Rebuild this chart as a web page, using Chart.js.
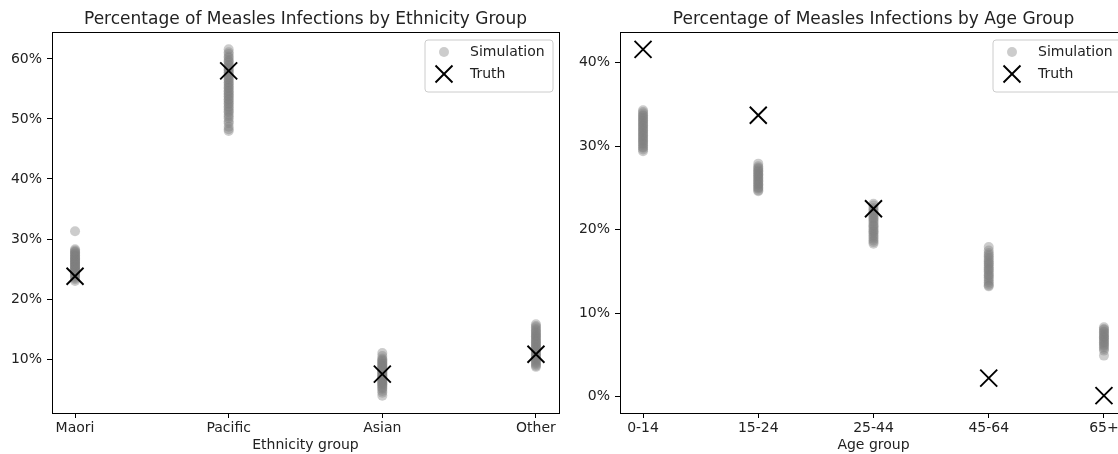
<!DOCTYPE html>
<html>
<head>
<meta charset="utf-8">
<script src="https://cdn.jsdelivr.net/npm/chart.js@4"></script>
<style>
  html, body { margin: 0; padding: 0; background: #fff; overflow: hidden; width: 1118px; height: 454px; }
  #wrap { position: relative; width: 1118px; height: 454px; overflow: hidden; }
  canvas { position: absolute; top: 0; }
  #ethnicityChart { left: 0; }
  #ageChart { left: 566px; }
</style>
</head>
<body>
<div id="wrap">
  <canvas id="ethnicityChart" width="566" height="454" style="width:566px;height:454px"></canvas>
  <canvas id="ageChart" width="572" height="454" style="width:572px;height:454px"></canvas>
</div>
<script>
// ---- Ethnicity panel ----
const ethnicityGroups = ['Maori', 'Pacific', 'Asian', 'Other'];
const ethnicityTruth = [23.8, 58.0, 7.5, 10.8];
const simMaori = [31.3, 28.3, 28.1, 27.9, 27.8, 27.6, 27.5, 27.3, 27.2, 27.0, 26.9, 26.8, 26.6, 26.5, 26.4, 26.2, 26.1, 26.0, 25.9, 25.7, 25.6, 25.5, 25.3, 25.2, 25.1, 24.9, 24.8, 24.7, 24.5, 24.4, 24.2, 24.1, 23.9, 23.7, 23.5, 23.3, 23.0];
const simPacific = [61.6, 61.1, 60.8, 60.4, 60.2, 59.8, 59.6, 59.4, 59.0, 58.9, 58.5, 58.3, 58.1, 57.8, 57.7, 57.3, 57.2, 56.9, 56.6, 56.5, 56.1, 56.0, 55.7, 55.5, 55.2, 55.1, 54.7, 54.6, 54.3, 54.1, 53.8, 53.7, 53.3, 53.2, 52.9, 52.6, 52.5, 52.1, 51.9, 51.6, 51.3, 51.1, 50.7, 50.4, 50.1, 49.6, 49.3, 48.7, 48.3, 48.0];
const simAsian = [11.0, 10.5, 10.1, 9.9, 9.7, 9.6, 9.4, 9.2, 9.1, 8.9, 8.8, 8.6, 8.5, 8.3, 8.2, 8.0, 7.9, 7.7, 7.6, 7.4, 7.3, 7.1, 7.0, 6.8, 6.7, 6.5, 6.4, 6.2, 6.1, 5.9, 5.8, 5.6, 5.4, 5.2, 5.0, 4.7, 4.4, 3.9];
const simOther = [15.8, 15.5, 15.3, 15.0, 14.8, 14.6, 14.4, 14.2, 14.0, 13.8, 13.7, 13.5, 13.3, 13.1, 12.9, 12.8, 12.6, 12.4, 12.2, 12.1, 11.9, 11.7, 11.5, 11.4, 11.2, 11.0, 10.8, 10.6, 10.5, 10.3, 10.1, 9.9, 9.7, 9.5, 9.3, 9.1, 8.9, 8.7];
const ethnicitySims = [simMaori, simPacific, simAsian, simOther];
const ethnicityTicks = [10, 20, 30, 40, 50, 60];

// ---- Age panel ----
const ageGroups = ['0-14', '15-24', '25-44', '45-64', '65+'];
const ageTruth = [41.6, 33.7, 22.5, 2.2, 0.1];
const sim0to14 = [34.3, 34.1, 33.9, 33.7, 33.6, 33.4, 33.3, 33.1, 33.0, 32.8, 32.7, 32.5, 32.4, 32.2, 32.1, 31.9, 31.8, 31.6, 31.5, 31.3, 31.2, 31.0, 30.9, 30.7, 30.6, 30.4, 30.3, 30.1, 29.9, 29.8, 29.6, 29.4];
const sim15to24 = [27.9, 27.6, 27.4, 27.3, 27.1, 27.0, 26.9, 26.7, 26.6, 26.5, 26.3, 26.2, 26.1, 25.9, 25.8, 25.7, 25.5, 25.4, 25.3, 25.1, 25.0, 24.9, 24.7, 24.6];
const sim25to44 = [23.1, 22.9, 22.6, 22.4, 22.2, 22.0, 21.8, 21.6, 21.4, 21.3, 21.1, 20.9, 20.7, 20.5, 20.4, 20.2, 20.0, 19.8, 19.7, 19.5, 19.3, 19.1, 18.9, 18.7, 18.5, 18.3];
const sim45to64 = [17.9, 17.5, 17.2, 17.0, 16.8, 16.6, 16.4, 16.2, 16.0, 15.9, 15.7, 15.5, 15.3, 15.2, 15.0, 14.8, 14.6, 14.5, 14.3, 14.1, 13.9, 13.7, 13.5, 13.3, 13.2];
const sim65plus = [8.3, 8.1, 8.0, 7.8, 7.7, 7.5, 7.4, 7.2, 7.1, 7.0, 6.8, 6.7, 6.5, 6.4, 6.2, 6.1, 5.9, 5.7, 5.5, 4.9];
const ageSims = [sim0to14, sim15to24, sim25to44, sim45to64, sim65plus];
const ageTicks = [0, 10, 20, 30, 40];

const TEXT = '#222';
const FONT = 'DejaVu Sans, sans-serif';

// Draws the axes frame and a boxed legend in the upper-right corner of the plot area.
const frameAndLegend = {
  id: 'frameAndLegend',
  afterDraw(chart) {
    const { ctx, chartArea: a } = chart;
    ctx.save();
    ctx.strokeStyle = '#000';
    ctx.lineWidth = 1;
    const l = Math.round(a.left) + 0.5, t = Math.round(a.top) + 0.5;
    const r = Math.round(a.right) + 0.5, b = Math.round(a.bottom) + 0.5;
    ctx.strokeRect(l, t, r - l, b - t);

    const bx = a.right - 134, by = a.top + 8, bw = 128, bh = 52, rad = 3;
    ctx.beginPath();
    ctx.moveTo(bx + rad, by);
    ctx.arcTo(bx + bw, by, bx + bw, by + bh, rad);
    ctx.arcTo(bx + bw, by + bh, bx, by + bh, rad);
    ctx.arcTo(bx, by + bh, bx, by, rad);
    ctx.arcTo(bx, by, bx + bw, by, rad);
    ctx.closePath();
    ctx.fillStyle = 'rgba(255,255,255,0.8)';
    ctx.fill();
    ctx.strokeStyle = '#cccccc';
    ctx.lineWidth = 1;
    ctx.stroke();

    const rows = [a.top + 20, a.top + 42];
    const order = [1, 0]; // Simulation first, Truth second
    ctx.font = '14px ' + FONT;
    ctx.textBaseline = 'middle';
    ctx.textAlign = 'left';
    order.forEach((di, k) => {
      const ds = chart.data.datasets[di];
      const y = rows[k];
      const mx = a.right - 115;
      ctx.fillStyle = ds.backgroundColor;
      ctx.strokeStyle = ds.borderColor;
      ctx.lineWidth = ds.borderWidth;
      Chart.helpers.drawPoint(ctx, {
        pointStyle: ds.pointStyle, radius: ds.pointRadius, rotation: 0, borderWidth: ds.borderWidth
      }, mx, y);
      ctx.fillStyle = TEXT;
      ctx.fillText(ds.label, a.right - 89, y);
    });
    ctx.restore();
  }
};

function makePanel(canvasId, title, xLabel, groups, sims, truth, yTicks, yAxisWidth, rightPad) {
  const simPoints = [];
  sims.forEach((vals, i) => vals.forEach(v => simPoints.push({ x: i, y: v })));
  const truthPoints = truth.map((v, i) => ({ x: i, y: v }));

  const all = sims.flat().concat(truth);
  const lo = Math.min(...all), hi = Math.max(...all);
  const pad = 0.05 * (hi - lo);
  const xPad = 0.05 * (groups.length - 1);

  return new Chart(document.getElementById(canvasId), {
    type: 'scatter',
    data: {
      datasets: [
        {
          label: 'Truth', data: truthPoints, order: 1,
          pointStyle: 'crossRot', pointRadius: 12, pointHoverRadius: 12,
          borderColor: '#000', backgroundColor: '#000', borderWidth: 1.9
        },
        {
          label: 'Simulation', data: simPoints, order: 2,
          pointStyle: 'circle', pointRadius: 5, pointHoverRadius: 5,
          backgroundColor: 'rgba(128,128,128,0.4)', borderColor: 'rgba(128,128,128,0.4)', borderWidth: 0
        }
      ]
    },
    options: {
      responsive: false,
      animation: false,
      events: [],
      layout: { autoPadding: false, padding: { left: 0, right: rightPad, top: 0, bottom: 0 } },
      plugins: {
        legend: { display: false },
        tooltip: { enabled: false },
        title: {
          display: true, text: title, fullSize: false, color: TEXT,
          font: { family: FONT, size: 17, weight: 'normal' },
          padding: { top: 9, bottom: 2.6 }
        }
      },
      scales: {
        x: {
          type: 'linear', min: -xPad, max: groups.length - 1 + xPad,
          afterBuildTicks: s => { s.ticks = groups.map((g, i) => ({ value: i })); },
          afterFit: s => { s.height = 41; },
          ticks: {
            autoSkip: false, maxRotation: 0, padding: 2, color: TEXT,
            font: { family: FONT, size: 14 },
            callback: v => groups[Math.round(v)]
          },
          grid: { drawOnChartArea: false, drawTicks: true, tickLength: 5, tickColor: '#000', tickWidth: 1 },
          border: { display: false },
          title: {
            display: true, text: xLabel, color: TEXT,
            font: { family: FONT, size: 14 }, padding: { top: 0, bottom: 0 }
          }
        },
        y: {
          type: 'linear', min: lo - pad, max: hi + pad,
          afterBuildTicks: s => { s.ticks = yTicks.map(v => ({ value: v })); },
          afterFit: s => { s.width = yAxisWidth; },
          ticks: {
            padding: 5, color: TEXT,
            font: { family: FONT, size: 14 },
            callback: v => v + '%'
          },
          grid: { drawOnChartArea: false, drawTicks: true, tickLength: 5, tickColor: '#000', tickWidth: 1 },
          border: { display: false }
        }
      }
    },
    plugins: [frameAndLegend]
  });
}

makePanel('ethnicityChart', 'Percentage of Measles Infections by Ethnicity Group', 'Ethnicity group',
  ethnicityGroups, ethnicitySims, ethnicityTruth, ethnicityTicks, 52, 7);
makePanel('ageChart', 'Percentage of Measles Infections by Age Group', 'Age group',
  ageGroups, ageSims, ageTruth, ageTicks, 54, 11);
</script>
</body>
</html>
